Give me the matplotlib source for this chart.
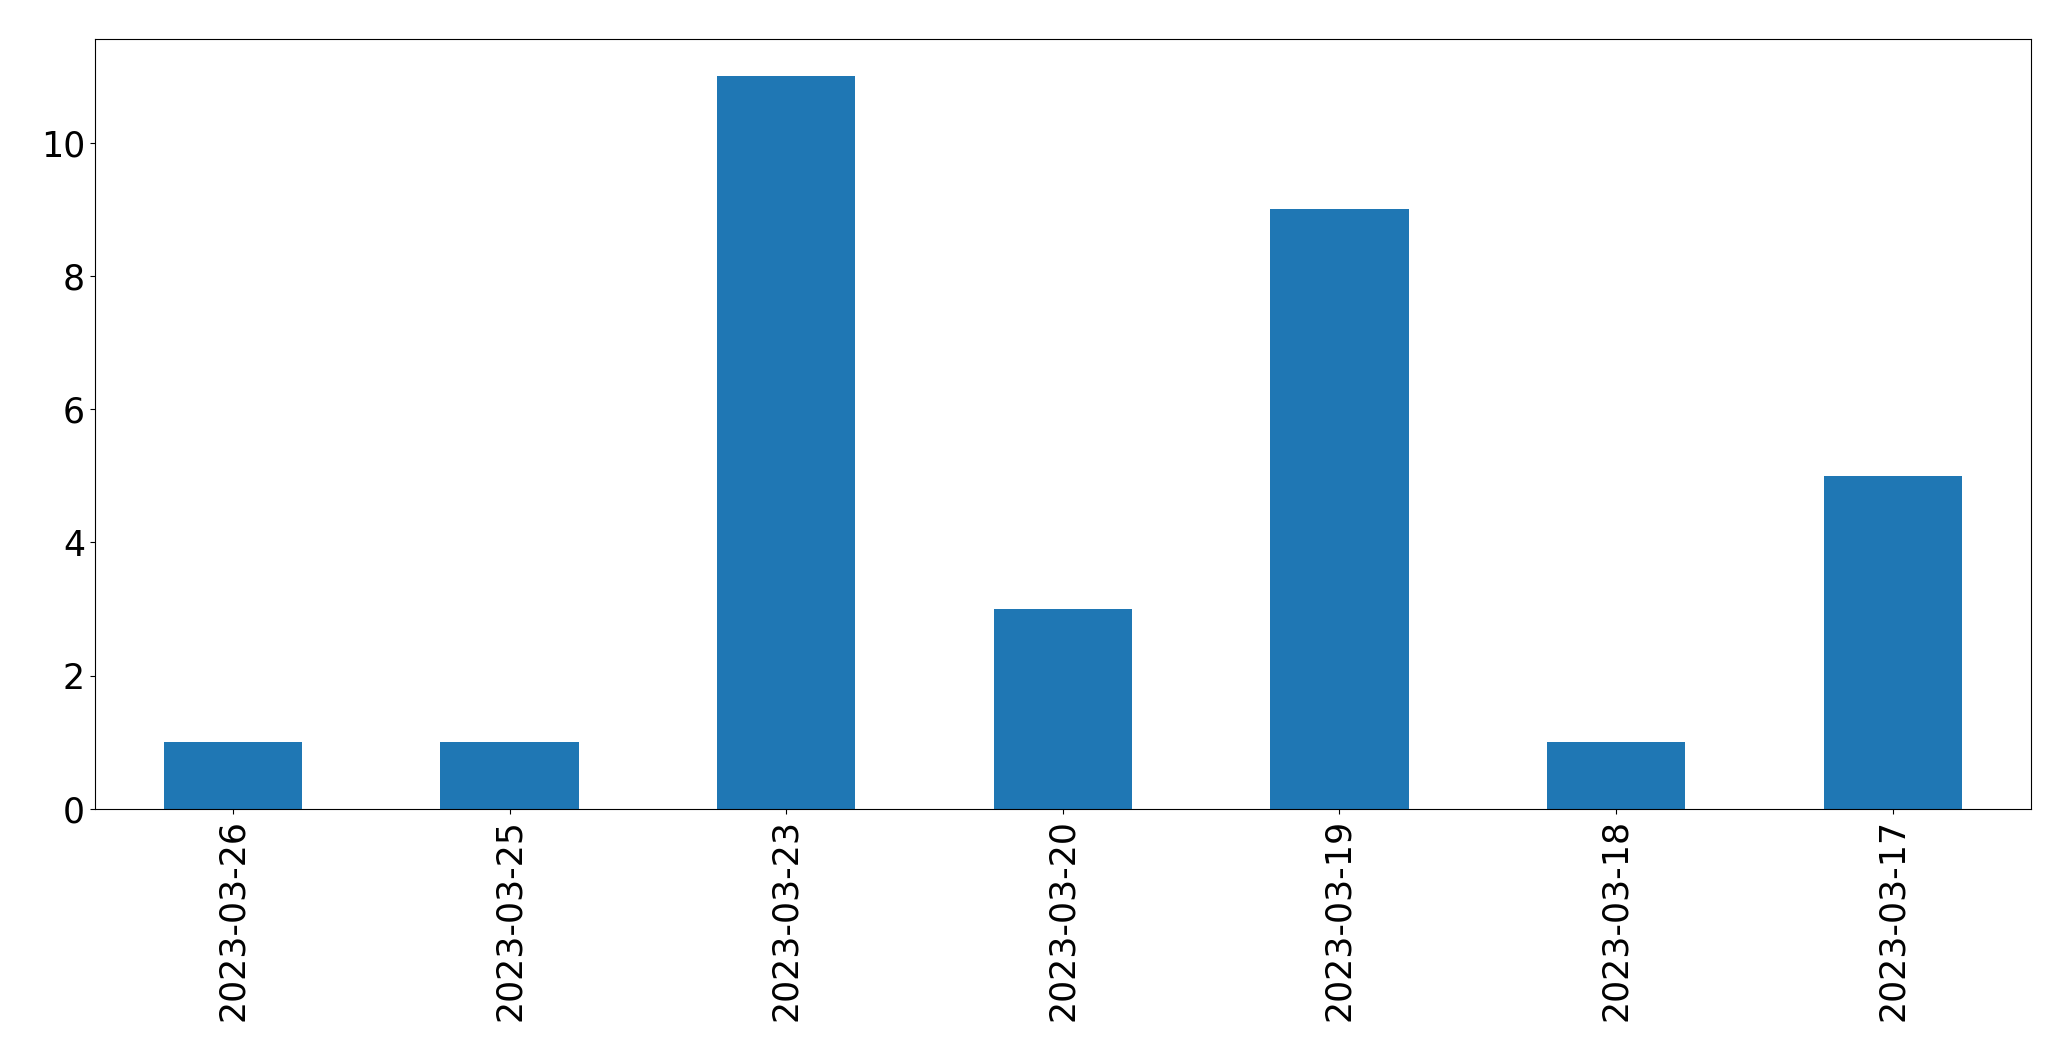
import matplotlib
matplotlib.use("Agg")
import matplotlib.pyplot as plt

dates = ["2023-03-26", "2023-03-25", "2023-03-23", "2023-03-20",
         "2023-03-19", "2023-03-18", "2023-03-17"]
counts = [1, 1, 11, 3, 9, 1, 5]

fig = plt.figure(figsize=(20.71, 10.61), dpi=100)
ax = fig.add_axes([94.7 / 2071, 1 - 809 / 1061, (2031 - 94.7) / 2071, (809 - 39.3) / 1061])
x = list(range(len(dates)))
ax.bar(x, counts, width=0.5, color="#1f77b4")
ax.set_xlim(-0.5, len(dates) - 0.5)
ax.set_ylim(0, max(counts) * 1.05)
ax.set_xticks(x)
ax.set_xticklabels(dates, rotation=90)
ax.tick_params(labelsize=25)
fig.savefig("out.png", dpi=100)
